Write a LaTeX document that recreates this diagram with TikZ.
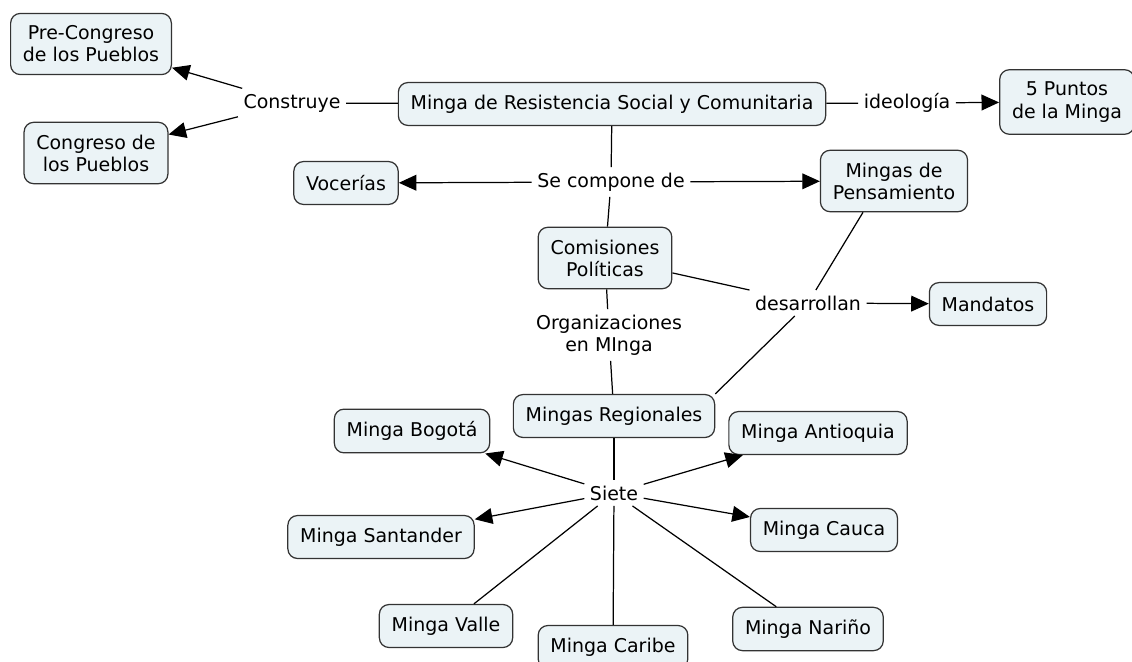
\documentclass[tikz,border=0pt]{standalone}
\usepackage{fontspec}
\setmainfont{DejaVu Sans}
\usetikzlibrary{arrows.meta,positioning}
\definecolor{cmfill}{HTML}{EBF3F6}
\definecolor{cmline}{HTML}{333333}

\begin{document}
\begin{tikzpicture}[x=0.02cm, y=-0.02cm,
  concept/.style={draw=cmline, fill=cmfill, rounded corners=5.5pt, line width=0.7pt,
    align=center, inner xsep=7pt, inner ysep=7pt, minimum height=24.4pt,
    font=\fontsize{10.8}{12.6}\selectfont},
  phrase/.style={align=center, inner sep=3pt, font=\fontsize{10.8}{12.6}\selectfont},
  link/.style={draw=black, line width=0.7pt},
  linkto/.style={link, -{Triangle[length=10pt,width=9pt]}},
]
\useasboundingbox (0,0) rectangle (1132,662);

% concepts
\node[concept] (main) at (612,104) {Minga de Resistencia Social y Comunitaria};
\node[concept] (precong) at (91,44) {Pre-Congreso\\de los Pueblos};
\node[concept] (cong) at (96,153) {Congreso de\\los Pueblos};
\node[concept] (puntos) at (1067,102) {5 Puntos\\de la Minga};
\node[concept] (voc) at (346,183) {Vocerías};
\node[concept] (pens) at (894,181) {Mingas de\\Pensamiento};
\node[concept] (com) at (605,258) {Comisiones\\Políticas};
\node[concept] (mand) at (988,304) {Mandatos};
\node[concept] (reg) at (614,416) {Mingas Regionales};
\node[concept] (bog) at (412,431) {Minga Bogotá};
\node[concept] (ant) at (818,433) {Minga Antioquia};
\node[concept] (san) at (381,537) {Minga Santander};
\node[concept] (cau) at (824,530) {Minga Cauca};
\node[concept] (val) at (446,626) {Minga Valle};
\node[concept] (car) at (613,647) {Minga Caribe};
\node[concept] (nar) at (808,629) {Minga Nariño};

% linking phrases
\node[phrase] (constr) at (292,103) {Construye};
\node[phrase] (ideo) at (907,103) {ideología};
\node[phrase] (comp) at (611,182) {Se compone de};
\node[phrase] (desa) at (808,303) {desarrollan};
\node[phrase] (orgs) at (609,335) {Organizaciones\\en MInga};
\node[phrase] (siete) at (614,493) {Siete};

% connectors
\draw[link] (main) -- (constr);
\draw[linkto] (constr) -- (precong);
\draw[linkto] (constr) -- (cong);
\draw[link] (main) -- (ideo);
\draw[linkto] (ideo) -- (puntos);
\draw[link] (main) -- (comp);
\draw[linkto] (comp) -- (voc);
\draw[linkto] (comp) -- (pens);
\draw[link] (comp) -- (com);
\draw[link] (com) -- (desa);
\draw[link] ([xshift=-31*0.02cm]pens.south) -- (desa);
\draw[link] (desa) -- (reg.north east);
\draw[linkto] (desa) -- (mand);
\draw[link] (com) -- (orgs);
\draw[link] (orgs) -- (reg);
\draw[link] (reg) -- (siete);
\foreach \t in {bog,ant,san,cau}
  \draw[linkto] (siete) -- (\t);
\foreach \t in {val,car,nar}
  \draw[link] (siete) -- (\t);
\end{tikzpicture}
\end{document}
